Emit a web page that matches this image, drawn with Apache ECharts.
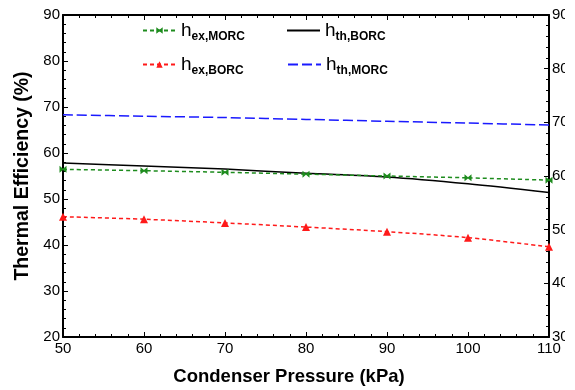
<!DOCTYPE html>
<html>
<head>
<meta charset="utf-8">
<script src="https://cdn.jsdelivr.net/npm/echarts@6/dist/echarts.min.js"></script>
<style>
  html, body { margin: 0; padding: 0; background: #fff; }
  /* the original figure is cropped just past the right axis labels */
  #chart { width: 565px; height: 390px; }
</style>
</head>
<body>
<div id="chart"></div>
<script>
const pressure = [50, 60, 70, 80, 90, 100, 110]
const exMORC = [56.45, 56.15, 55.8, 55.4, 55.0, 54.6, 54.1]
const thBORC = [57.8, 57.2, 56.5, 55.6, 54.8, 53.3, 51.4]
const exBORC = [46.15, 45.6, 44.8, 43.9, 42.9, 41.6, 39.6]
const thMORC = [68.3, 68.0, 67.7, 67.3, 66.9, 66.5, 66.1]

const subs = { 'h_ex,MORC': 'ex,MORC', 'h_th,BORC': 'th,BORC', 'h_ex,BORC': 'ex,BORC', 'h_th,MORC': 'th,MORC' }
const font = 'Liberation Sans, Arial, sans-serif'

const pairs = (ys) => pressure.map((x, i) => [x, ys[i]])

const chart = echarts.init(document.getElementById('chart'))

const legendBase = {
  itemWidth: 33,
  itemHeight: 8,
  itemGap: 4,
  padding: 0,
  selectedMode: false,
  formatter: (name) => '{h|h}{s|' + subs[name] + '}',
  textStyle: {
    rich: {
      h: { fontFamily: font, fontSize: 19, color: '#000', verticalAlign: 'bottom' },
      s: { fontFamily: font, fontSize: 12, fontWeight: 'bold', color: '#000', verticalAlign: 'bottom', padding: [0, 0, -3, 0] }
    }
  }
}
// solid / long-dash lines have no marker in the legend
const noMarker = { itemStyle: { opacity: 0 } }

// ticks inside, minor ticks every 2 units
const axisCommon = {
  axisLine: { show: true, onZero: false, lineStyle: { color: '#000', width: 2 } },
  axisTick: { show: true, inside: true, length: 5, lineStyle: { color: '#000', width: 1 } },
  minorTick: { show: true, splitNumber: 5, length: 3, lineStyle: { color: '#000', width: 1 } },
  splitLine: { show: false },
  minorSplitLine: { show: false }
}

const option = {
  animation: false,
  backgroundColor: '#fff',
  grid: { left: 63, right: 16, top: 15, bottom: 53, outerBoundsMode: 'none', containLabel: false },
  legend: [
    Object.assign({}, legendBase, { left: 142, top: 21, data: ['h_ex,MORC'] }),
    Object.assign({}, legendBase, noMarker, { left: 286, top: 21, data: ['h_th,BORC'] }),
    Object.assign({}, legendBase, { left: 142, top: 55, data: ['h_ex,BORC'] }),
    Object.assign({}, legendBase, noMarker, { left: 287, top: 55, data: ['h_th,MORC'] })
  ],
  xAxis: [
    Object.assign({}, axisCommon, {
      type: 'value', min: 50, max: 110, interval: 10, position: 'bottom',
      name: 'Condenser Pressure (kPa)', nameLocation: 'middle', nameGap: 30,
      nameTextStyle: { fontFamily: font, fontSize: 18.5, fontWeight: 'bold', color: '#000', padding: [0, 34, 0, 0] },
      axisLabel: { fontFamily: font, fontSize: 15, color: '#000', margin: 4 }
    }),
    Object.assign({}, axisCommon, {
      type: 'value', min: 50, max: 110, interval: 10, position: 'top',
      axisLabel: { show: false }
    })
  ],
  yAxis: [
    Object.assign({}, axisCommon, {
      type: 'value', min: 20, max: 90, interval: 10, position: 'left',
      name: 'Thermal Efficiency (%)', nameLocation: 'middle', nameGap: 28,
      nameTextStyle: { fontFamily: font, fontSize: 19.5, fontWeight: 'bold', color: '#000' },
      axisLabel: { fontFamily: font, fontSize: 15, color: '#000', margin: 3 }
    }),
    Object.assign({}, axisCommon, {
      type: 'value', min: 30, max: 90, interval: 10, position: 'right',
      axisLabel: { fontFamily: font, fontSize: 15, color: '#000', margin: 3 }
    })
  ],
  series: [
    {
      name: 'h_th,BORC', type: 'line', smooth: 0.3, symbol: 'none',
      color: '#000',
      lineStyle: { color: '#000', width: 1.5, type: 'solid' },
      data: pairs(thBORC)
    },
    {
      name: 'h_th,MORC', type: 'line', smooth: 0.3, symbol: 'none',
      color: '#1a1aff',
      lineStyle: { color: '#1a1aff', width: 1.5, type: [10, 4] },
      data: pairs(thMORC)
    },
    {
      name: 'h_ex,MORC', type: 'line', smooth: 0.3,
      symbol: 'path://M0,0L5,4L10,0L10,10L5,6L0,10Z', symbolSize: [7, 7], showAllSymbol: true,
      color: '#1e8c1e',
      itemStyle: { color: '#1e8c1e' },
      lineStyle: { color: '#1e8c1e', width: 1.5, type: [4, 3] },
      data: pairs(exMORC)
    },
    {
      name: 'h_ex,BORC', type: 'line', smooth: 0.3,
      symbol: 'triangle', symbolSize: 8, showAllSymbol: true,
      color: '#ff1a1a',
      itemStyle: { color: '#ff1a1a' },
      lineStyle: { color: '#ff1a1a', width: 1.5, type: [4, 3] },
      data: pairs(exBORC)
    }
  ]
}

chart.setOption(option)
</script>
</body>
</html>
